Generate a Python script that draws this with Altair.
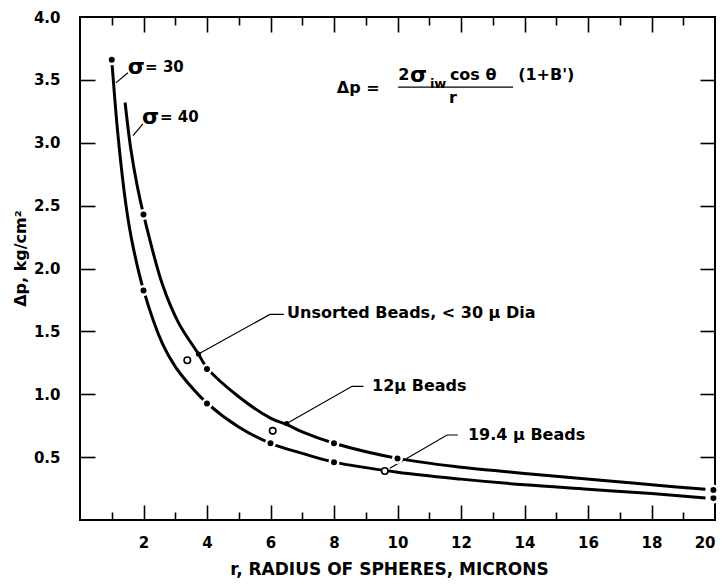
import altair as alt
import pandas as pd

# ---------------- data ----------------
# sigma = 30 curve (lower)
r30 = [1.0, 1.2, 1.45, 1.65, 2.0, 2.6, 3.0, 3.4, 4.0, 5.0, 6.0, 7.0, 8.0, 10.0, 12.0, 14.0, 16.0, 18.0, 19.7]
p30 = [3.66, 3.05, 2.50, 2.20, 1.83, 1.40, 1.22, 1.09, 0.93, 0.74, 0.61, 0.53, 0.46, 0.38, 0.325, 0.28, 0.245, 0.21, 0.175]
# sigma = 40 curve (upper)
r40 = [1.42, 1.6, 1.8, 2.0, 2.6, 3.1, 3.73, 4.0, 5.0, 6.0, 6.5, 7.0, 8.0, 10.0, 12.0, 13.2, 14.0, 16.4, 18.0, 19.7]
p40 = [3.32, 2.95, 2.66, 2.43, 1.87, 1.57, 1.32, 1.21, 0.98, 0.81, 0.76, 0.70, 0.61, 0.49, 0.42, 0.39, 0.37, 0.317, 0.28, 0.245]

# filled data points
dot_r = [1.0, 2.0, 4.0, 6.0, 8.0, 19.95, 2.0, 4.0, 8.0, 10.0, 19.95]
dot_p = [3.66, 1.825, 0.926, 0.61, 0.46, 0.175, 2.43, 1.20, 0.61, 0.49, 0.238]
# leader arrow heads
head_r = [3.73, 6.51]
head_p = [1.32, 0.767]
# open circles (bead experiments)
open_r = [3.38, 6.07, 9.6]
open_p = [1.27, 0.709, 0.39]

# leader lines (id, r, p)
lead_id = ["s30", "s30", "s40", "s40", "u", "u", "u", "b12", "b12", "b12", "b19", "b19", "b19"]
lead_r = [1.13, 1.51, 1.67, 1.98, 3.73, 5.98, 6.42, 6.51, 8.57, 8.93, 9.76, 11.56, 11.9]
lead_p = [3.476, 3.556, 3.056, 3.15, 1.32, 1.635, 1.635, 0.767, 1.063, 1.063, 0.411, 0.676, 0.676]

# annotation texts
ann_text = ["σ", "= 30", "σ", "= 40",
            "Unsorted Beads, < 30 μ Dia", "12μ Beads", "19.4 μ Beads",
            "Δp =", "2", "σ", "iw", "cos θ", "(1+B')", "r"]
ann_r = [1.50, 2.05, 1.95, 2.52,
         6.52, 9.20, 12.22,
         8.09, 10.02, 10.39, 11.02, 11.65, 13.8, 11.62]
ann_p = [3.60, 3.60, 3.205, 3.205,
         1.646, 1.066, 0.676,
         3.435, 3.539, 3.539, 3.467, 3.539, 3.539, 3.356]
ann_size = [22, 15, 22, 15,
            16, 16, 16,
            16, 16, 22, 13, 16, 16, 16]
# fraction bar of the formula
frac_r = [10.02, 13.64]
frac_p = [3.443, 3.443]

# ticks and labels
x_major = [2, 4, 6, 8, 10, 12, 14, 16, 18]
x_minor = [1, 3, 5, 7, 9, 11, 13, 15, 17, 19]
y_ticks = [0.5, 1.0, 1.5, 2.0, 2.5, 3.0, 3.5]
x_labels = [2, 4, 6, 8, 10, 12, 14, 16, 18, 20]
y_labels = [0.5, 1.0, 1.5, 2.0, 2.5, 3.0, 3.5, 4.0]

# ---------------- chart ----------------
W, H = 635, 503
FONT = "DejaVu Sans"
xs = alt.Scale(domain=[0, 20], nice=False, zero=False)
ys = alt.Scale(domain=[0, 4], nice=False, zero=False)

x_axis = alt.Axis(orient="bottom", values=x_labels, format="d", ticks=False, tickSize=0,
                  domain=False, grid=False,
                  labelFont=FONT, labelFontSize=15, labelFontWeight="bold", labelColor="black",
                  labelPadding=15,
                  title="r, RADIUS OF SPHERES, MICRONS", titleFont=FONT, titleFontSize=17,
                  titleFontWeight="bold", titleColor="black", titleX=309, titleY=49,
                  titleBaseline="middle", titleAlign="center")
y_axis = alt.Axis(orient="left", values=y_labels, format=".1f", ticks=False, tickSize=0,
                  domain=False, grid=False,
                  labelFont=FONT, labelFontSize=15, labelFontWeight="bold", labelColor="black",
                  labelPadding=20,
                  title="Δp, kg/cm²", titleFont=FONT, titleFontSize=16, titleFontWeight="bold",
                  titleColor="black", titleAngle=270, titleX=-60, titleY=241,
                  titleBaseline="middle", titleAlign="center")


def X(f="r"):
    return alt.X(f"{f}:Q", scale=xs, axis=x_axis)


def Y(f="p"):
    return alt.Y(f"{f}:Q", scale=ys, axis=y_axis)


curves = pd.DataFrame({
    "r": r30 + r40,
    "p": p30 + p40,
    "curve": ["30"] * len(r30) + ["40"] * len(r40),
    "i": list(range(len(r30))) + list(range(len(r40))),
})

lines = alt.Chart(curves).mark_line(color="black", strokeWidth=3, interpolate="catmull-rom").encode(
    x=X(), y=Y(), detail="curve:N", order="i:Q")

leaders = alt.Chart(pd.DataFrame({"id": lead_id, "r": lead_r, "p": lead_p,
                                  "i": list(range(len(lead_r)))})).mark_line(
    color="black", strokeWidth=1.2).encode(x=X(), y=Y(), detail="id:N", order="i:Q")

dots = alt.Chart(pd.DataFrame({"r": dot_r, "p": dot_p})).mark_circle(
    size=72, fill="black", stroke="white", strokeWidth=2.5, opacity=1).encode(x=X(), y=Y())
heads = alt.Chart(pd.DataFrame({"r": head_r, "p": head_p})).mark_circle(
    size=26, fill="black", opacity=1).encode(x=X(), y=Y())
opens = alt.Chart(pd.DataFrame({"r": open_r, "p": open_p})).mark_circle(
    size=42, fill="white", stroke="black", strokeWidth=1.6, opacity=1).encode(x=X(), y=Y())

texts = alt.Chart(pd.DataFrame({"t": ann_text, "r": ann_r, "p": ann_p, "s": ann_size})).mark_text(
    align="left", baseline="middle", font=FONT, fontWeight="bold", color="black").encode(
    x=X(), y=Y(), text="t:N", size=alt.Size("s:Q", scale=None, legend=None))

frac = alt.Chart(pd.DataFrame({"r": frac_r, "p": frac_p, "i": [0, 1]})).mark_line(
    color="black", strokeWidth=1.3).encode(x=X(), y=Y(), order="i:Q")

main = alt.layer(lines, leaders, dots, heads, opens, frac, texts)


# inward ticks: extra axes pulled inside the frame (negative offset, outward ticks)
def tick_axis(orient, vals, length):
    return alt.Axis(orient=orient, values=vals, offset=-length, tickSize=length, ticks=True,
                    tickColor="black", tickWidth=1.6, labels=False, domain=False, grid=False,
                    title="")


def x_tick_chart(vals, orient, length):
    return alt.Chart(pd.DataFrame({"v": vals})).mark_point(opacity=0).encode(
        x=alt.X("v:Q", scale=xs, axis=tick_axis(orient, vals, length)))


def y_tick_chart(vals, orient, length):
    return alt.Chart(pd.DataFrame({"v": vals})).mark_point(opacity=0).encode(
        y=alt.Y("v:Q", scale=ys, axis=tick_axis(orient, vals, length)))


tick_group = alt.layer(
    x_tick_chart(x_major, "bottom", 15),
    x_tick_chart(x_minor, "bottom", 8),
    x_tick_chart(x_major, "top", 15),
    x_tick_chart(x_minor, "top", 8),
    y_tick_chart(y_ticks, "left", 15),
    y_tick_chart(y_ticks, "right", 15),
).resolve_axis(x="independent", y="independent")

chart = alt.layer(main, tick_group).resolve_axis(x="independent", y="independent").properties(
    width=W, height=H,
    autosize=alt.AutoSizeParams(type="none"),
    padding={"left": 72, "top": 9, "right": 3, "bottom": 58},
    background="white",
).configure_view(stroke="black", strokeWidth=2)

chart.save("out.html", embed_options={"renderer": "svg", "actions": False})
